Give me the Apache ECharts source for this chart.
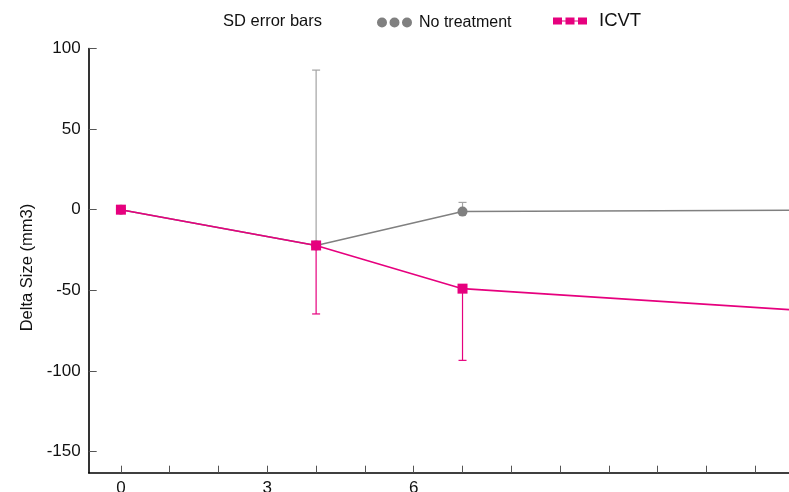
<!DOCTYPE html>
<html>
<head>
<meta charset="utf-8">
<script src="https://cdn.jsdelivr.net/npm/echarts@6/dist/echarts.min.js"></script>
<style>
html,body{margin:0;padding:0;background:#fff;}
#chart{width:789px;height:492px;}
</style>
</head>
<body>
<div id="chart"></div>
<script>
// ---- data ----
var days = [0, 4, 7, 14];
var noTreatment = [0, -22.2, -1.2, -0.4];
var icvt = [0, -22.2, -49, -62.6];
var noTreatmentSD = [0, 108.8, 5.7, null];   // drawn upward
var icvtSD = [0, 42.5, 44.5, null];          // drawn downward
var xTickValues = [0,1,2,3,4,5,6,7,8,9,10,11,12,13,14];
var xLabelValues = [0, 3, 6];
var yTickValues = [-150, -100, -50, 0, 50, 100];

var FONT = "'Liberation Sans', Arial, sans-serif";
var GRAY = '#808080';
var GRAY_ERR = '#a3a3a3';
var PINK = '#e6007e';

function pairs(xs, ys){ return xs.map(function(x,i){ return [x, ys[i]]; }); }
function errData(xs, ys, sds, dir){
  var out = [];
  xs.forEach(function(x,i){
    if (sds[i]) out.push([x, ys[i], ys[i] + dir*sds[i]]);
  });
  return out;
}
function errRender(color){
  return function(params, api){
    var x = api.value(0), y = api.value(1), e = api.value(2);
    var p0 = api.coord([x, y]);
    var p1 = api.coord([x, e]);
    var hw = 4;
    return {
      type: 'group',
      children: [
        {type:'line', shape:{x1:p0[0], y1:p0[1], x2:p1[0], y2:p1[1]}, style:{stroke:color, lineWidth:1.2}},
        {type:'line', shape:{x1:p1[0]-hw, y1:p1[1], x2:p1[0]+hw, y2:p1[1]}, style:{stroke:color, lineWidth:1.2}}
      ]
    };
  };
}

var circlesIcon = 'path://M0,5a5,5 0 1,0 10,0a5,5 0 1,0 -10,0z M12.5,5a5,5 0 1,0 10,0a5,5 0 1,0 -10,0z M25,5a5,5 0 1,0 10,0a5,5 0 1,0 -10,0z';
var squaresIcon = 'path://M0,0h9v7h-9z M12.5,0h9v7h-9z M25,0h9v7h-9z M9,3h3.5v1h-3.5z M21.5,3h3.5v1h-3.5z';

var chart = echarts.init(document.getElementById('chart'), null, {renderer:'canvas'});
chart.setOption({
  backgroundColor: '#fff',
  animation: false,
  textStyle: {fontFamily: FONT},
  legend: [
    {left: 218, top: 13, padding: 0, icon: 'none', itemWidth: 0, itemHeight: 9, itemGap: 0,
     data: [{name: 'SD error bars'}],
     textStyle: {fontSize: 16.5, color: '#111', fontFamily: FONT}},
    {left: 377, top: 14.5, padding: 0, itemWidth: 35, itemHeight: 10,
     data: [{name: 'No treatment', icon: circlesIcon}],
     itemStyle: {borderWidth: 0},
     textStyle: {fontSize: 16, color: '#111', fontFamily: FONT, padding: [0,0,0,2]}},
    {left: 553, top: 11.5, padding: 0, itemWidth: 34, itemHeight: 7,
     data: [{name: 'ICVT', icon: squaresIcon}],
     itemStyle: {borderWidth: 0},
     textStyle: {fontSize: 18.5, color: '#111', fontFamily: FONT, padding: [0,0,0,7]}}
  ],
  grid: {left: 88.7, top: 48.5, right: 0, bottom: 19.3, containLabel: false, outerBoundsMode: 'none'},
  xAxis: {
    type: 'value',
    min: -0.66,
    max: 13.69,
    axisLine: {show: true, onZero: false, lineStyle: {color: '#000', width: 1.6}},
    axisTick: {show: true, inside: true, length: 7, customValues: xTickValues, lineStyle: {color: '#555', width: 1}},
    axisLabel: {customValues: xLabelValues, fontSize: 17, color: '#111', margin: 7, fontFamily: FONT},
    splitLine: {show: false}
  },
  yAxis: {
    type: 'value',
    min: -163.2,
    max: 100,
    name: 'Delta Size (mm3)',
    nameLocation: 'middle',
    nameGap: 52,
    nameTextStyle: {fontSize: 16.5, color: '#111', fontFamily: FONT, padding: [0,14,0,0]},
    axisLine: {show: true, onZero: false, lineStyle: {color: '#000', width: 1.6}},
    axisTick: {show: true, inside: true, length: 8, customValues: yTickValues, lineStyle: {color: '#555', width: 1}},
    axisLabel: {customValues: yTickValues, fontSize: 17, color: '#111', margin: 8, fontFamily: FONT},
    splitLine: {show: false}
  },
  series: [
    {
      name: 'SD error bars',
      type: 'custom',
      renderItem: errRender(GRAY_ERR),
      data: errData(days, noTreatment, noTreatmentSD, 1),
      encode: {x: 0, y: [1, 2]},
      itemStyle: {color: GRAY_ERR},
      z: 1
    },
    {
      name: 'No treatment',
      type: 'line',
      data: pairs(days, noTreatment),
      symbol: 'circle',
      symbolSize: 10,
      color: GRAY,
      lineStyle: {color: GRAY, width: 1.5},
      itemStyle: {color: GRAY},
      z: 2
    },
    {
      name: 'ICVT error',
      type: 'custom',
      renderItem: errRender(PINK),
      data: errData(days, icvt, icvtSD, -1),
      encode: {x: 0, y: [1, 2]},
      z: 3
    },
    {
      name: 'ICVT',
      type: 'line',
      data: pairs(days, icvt),
      symbol: 'rect',
      symbolSize: 10,
      color: PINK,
      lineStyle: {color: PINK, width: 1.6},
      itemStyle: {color: PINK},
      z: 4
    }
  ]
});
</script>
</body>
</html>
